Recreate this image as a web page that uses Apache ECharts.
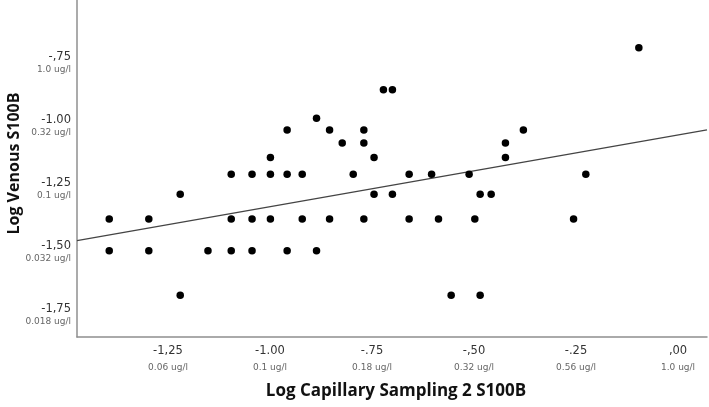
<!DOCTYPE html>
<html>
<head>
<meta charset="utf-8">
<script src="https://cdn.jsdelivr.net/npm/echarts@6/dist/echarts.min.js"></script>
<style>
html,body{margin:0;padding:0;background:#fff;}
#chart{width:709px;height:407px;}
</style>
</head>
<body>
<div id="chart"></div>
<script>
// Log capillary sampling 2 S100B (x) and log venous S100B (y)
const capillary = [
  -1.394, -1.394, -1.297, -1.297, -1.220, -1.220, -1.152,
  -1.095, -1.095, -1.095, -1.044, -1.044, -1.044,
  -0.999, -0.999, -0.999, -0.958, -0.958, -0.958,
  -0.921, -0.921, -0.886, -0.886, -0.854, -0.854,
  -0.823, -0.796, -0.770, -0.770, -0.770, -0.745, -0.745,
  -0.722, -0.700, -0.700, -0.659, -0.659, -0.604, -0.587,
  -0.556, -0.512, -0.498, -0.485, -0.485, -0.458,
  -0.423, -0.423, -0.379, -0.256, -0.226, -0.096
];
const venous = [
  -1.392, -1.518, -1.392, -1.518, -1.294, -1.694, -1.518,
  -1.215, -1.392, -1.518, -1.215, -1.392, -1.518,
  -1.148, -1.215, -1.392, -1.039, -1.215, -1.518,
  -1.215, -1.392, -0.993, -1.518, -1.039, -1.392,
  -1.091, -1.215, -1.039, -1.091, -1.392, -1.148, -1.294,
  -0.880, -0.880, -1.294, -1.215, -1.392, -1.215, -1.392,
  -1.694, -1.215, -1.392, -1.294, -1.694, -1.294,
  -1.091, -1.148, -1.039, -1.392, -1.215, -0.713
];
// fit line end points
const fitX = [-1.473, 0.071];
const fitY = [-1.478, -1.039];

// tick labels
const xTickValues = [-1.25, -1.0, -0.75, -0.5, -0.25, 0];
const xTickMain = ['-1,25', '-1.00', '-.75', '-,50', '-.25', ',00'];
const xTickSub = ['0.06 ug/l', '0.1 ug/l', '0.18 ug/l', '0.32 ug/l', '0.56 ug/l', '1.0 ug/l'];
const yTickValues = [-1.75, -1.5, -1.25, -1.0, -0.75];
const yTickMain = ['-1,75', '-1,50', '-1,25', '-1.00', '-,75'];
const yTickSub = ['0.018 ug/l', '0.032 ug/l', '0.1 ug/l', '0.32 ug/l', '1.0 ug/l'];

const xTitle = 'Log Capillary Sampling 2 S100B';
const yTitle = 'Log Venous S100B';

function lookup(vals, arr, v) {
  let best = 0, d = Infinity;
  vals.forEach((t, i) => { const dd = Math.abs(t - v); if (dd < d) { d = dd; best = i; } });
  return arr[best];
}

const points = capillary.map((x, i) => [x, venous[i]]);
const fitLine = fitX.map((x, i) => [x, fitY[i]]);

const axisLineStyle = { color: '#8f8f8f', width: 1.5 };
const labelFont = 'DejaVu Sans';
const titleFont = 'Open Sans';

const chart = echarts.init(document.getElementById('chart'), null, { renderer: 'canvas' });
chart.setOption({
  animation: false,
  backgroundColor: '#ffffff',
  grid: { left: 77, right: 2, top: 0, bottom: 70, containLabel: false },
  graphic: [
    {
      type: 'text',
      x: 14, y: 163.5,
      rotation: Math.PI / 2,
      style: {
        text: yTitle,
        fontFamily: titleFont, fontWeight: 'bold', fontSize: 16, fill: '#111',
        textAlign: 'center', textVerticalAlign: 'middle'
      }
    },
    {
      type: 'text',
      x: 396, y: 391,
      style: {
        text: xTitle,
        fontFamily: titleFont, fontWeight: 'bold', fontSize: 17, fill: '#111',
        textAlign: 'center', textVerticalAlign: 'middle'
      }
    }
  ],
  xAxis: {
    type: 'value',
    min: -1.473, max: 0.071,
    axisLine: { show: true, onZero: false, lineStyle: axisLineStyle },
    axisTick: { show: false },
    splitLine: { show: false },
    axisLabel: {
      customValues: xTickValues,
      margin: 6,
      formatter: v => '{a|' + lookup(xTickValues, xTickMain, v) + '}\n{b|' + lookup(xTickValues, xTickSub, v) + '}',
      rich: {
        a: { fontFamily: labelFont, fontSize: 11.5, color: '#333', lineHeight: 16, align: 'center' },
        b: { fontFamily: labelFont, fontSize: 9, color: '#666', lineHeight: 17, align: 'center' }
      }
    }
  },
  yAxis: {
    type: 'value',
    min: -1.860, max: -0.524,
    axisLine: { show: true, onZero: false, lineStyle: axisLineStyle },
    axisTick: { show: false },
    splitLine: { show: false },
    axisLabel: {
      customValues: yTickValues,
      margin: 6,
      align: 'right',
      formatter: v => '{c| }\n{a|' + lookup(yTickValues, yTickMain, v) + '}\n{b|' + lookup(yTickValues, yTickSub, v) + '}',
      rich: {
        c: { fontFamily: labelFont, fontSize: 9, lineHeight: 11.6, align: 'right' },
        a: { fontFamily: labelFont, fontSize: 11.5, color: '#333', lineHeight: 13, align: 'right' },
        b: { fontFamily: labelFont, fontSize: 9, color: '#666', lineHeight: 11.6, align: 'right' }
      }
    }
  },
  series: [
    {
      type: 'scatter',
      data: points,
      symbol: 'circle',
      symbolSize: 7.5,
      itemStyle: { color: '#000', opacity: 1 },
      silent: true
    },
    {
      type: 'line',
      data: fitLine,
      symbol: 'none',
      lineStyle: { color: '#444', width: 1.2 },
      silent: true,
      z: 1
    }
  ]
});
</script>
</body>
</html>
